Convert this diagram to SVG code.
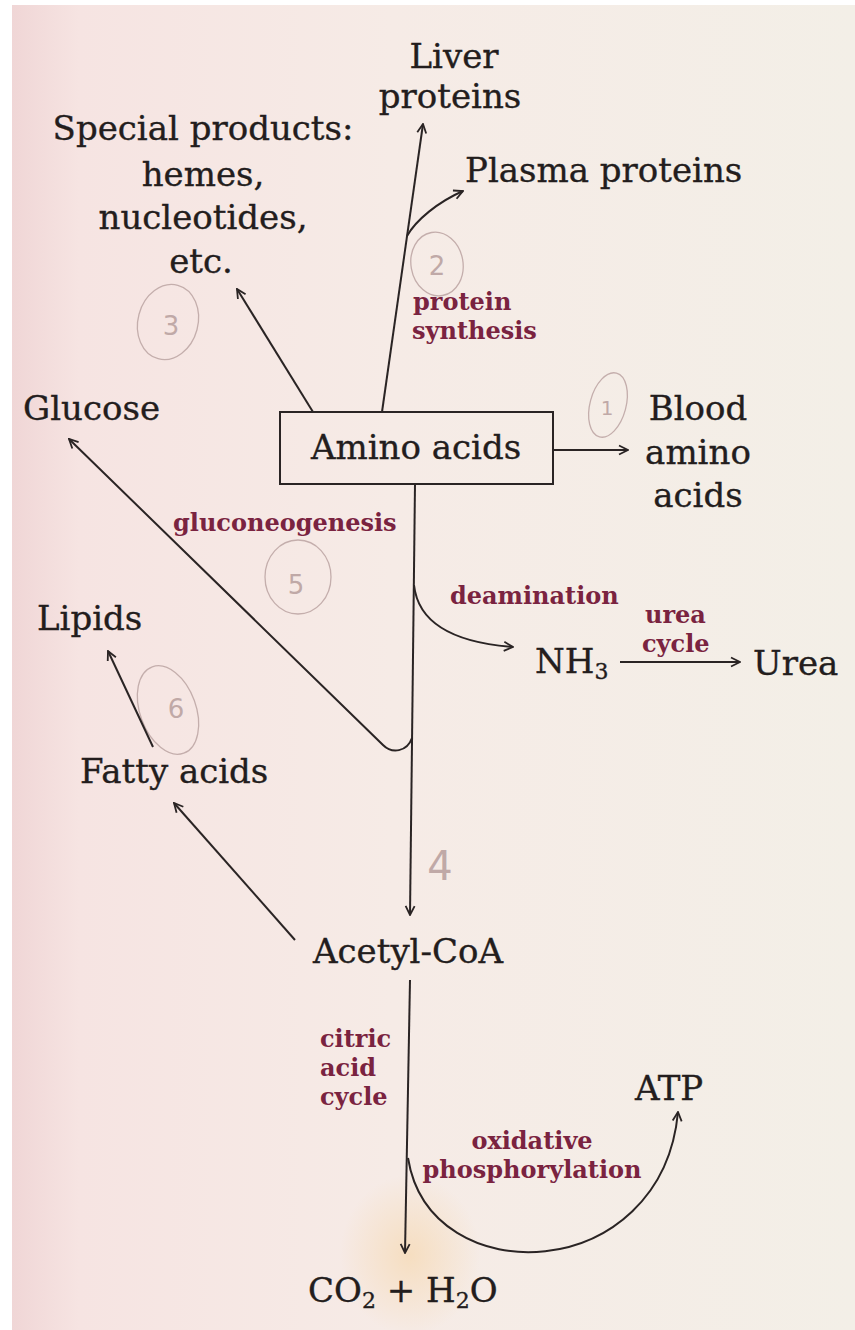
<svg xmlns="http://www.w3.org/2000/svg" width="855" height="1330" viewBox="0 0 855 1330">
<defs>
<linearGradient id="paper" x1="0" y1="0" x2="1" y2="0">
<stop offset="0" stop-color="#f0d6d6"/>
<stop offset="0.08" stop-color="#f6e4e2"/>
<stop offset="0.45" stop-color="#f6ebe6"/>
<stop offset="1" stop-color="#f3efe7"/>
</linearGradient>
<radialGradient id="stain" cx="0.5" cy="0.5" r="0.5">
<stop offset="0" stop-color="#f6d8b0" stop-opacity="0.7"/>
<stop offset="1" stop-color="#f6d8b0" stop-opacity="0"/>
</radialGradient>
<marker id="ah" viewBox="0 0 12 12" refX="11" refY="6" markerWidth="12" markerHeight="12" markerUnits="userSpaceOnUse" orient="auto">
<path d="M2,1.5 L11,6 L2,10.5" fill="none" stroke="#2a2424" stroke-width="1.8" stroke-linejoin="miter"/>
</marker>
<style>
.t{font-family:"DejaVu Serif","Liberation Serif",serif;font-size:34px;fill:#231d1d;stroke:#231d1d;stroke-width:0.35}
.m{text-anchor:middle}
.l{font-family:"DejaVu Serif","Liberation Serif",serif;font-size:24px;font-weight:bold;fill:#7a2340}
.c{fill:none;stroke:#2a2424;stroke-width:2}
.a{marker-end:url(#ah)}
.pen{fill:none;stroke:#c4aeac;stroke-width:1.3}
.pn{font-family:"DejaVu Sans",sans-serif;font-size:26px;fill:#c0a9a7;text-anchor:middle}
</style>
</defs>
<rect width="855" height="1330" fill="#ffffff"/>
<rect x="12" y="5" width="843" height="1325" fill="url(#paper)"/>
<ellipse cx="410" cy="1255" rx="70" ry="80" fill="url(#stain)"/>

<g id="annotations">
<ellipse class="pen" cx="168" cy="322" rx="30" ry="38" transform="rotate(15 168 322)"/>
<text class="pn" x="171" y="335">3</text>
<ellipse class="pen" cx="437" cy="264" rx="26" ry="32" transform="rotate(-10 437 264)"/>
<text class="pn" x="437" y="275">2</text>
<ellipse class="pen" cx="608" cy="405" rx="18" ry="33" transform="rotate(15 608 405)"/>
<text class="pn" x="607" y="415" style="font-size:20px">1</text>
<ellipse class="pen" cx="298" cy="577" rx="33" ry="37"/>
<text class="pn" x="296" y="594">5</text>
<ellipse class="pen" cx="168" cy="710" rx="28" ry="46" transform="rotate(-20 168 710)"/>
<text class="pn" x="176" y="718">6</text>
<text class="pn" x="440" y="880" style="font-size:40px">4</text>
</g>

<g id="connectors">
<path class="c a" d="M382,412 L423,124"/>
<path class="c a" d="M407,236 C416,220 438,202 463,191"/>
<path class="c a" d="M313,412 L237,289"/>
<path class="c a" d="M553,450 L628,450"/>
<path class="c a" d="M415,484 L410,915"/>
<path class="c a" d="M412,738 C407,752 392,754 383,745 L69,439"/>
<path class="c a" d="M414,585 Q420,640 513,647"/>
<path class="c a" d="M620,662 L740,662"/>
<path class="c a" d="M153,747 L108,651"/>
<path class="c a" d="M295,940 L174,803"/>
<path class="c a" d="M410,980 L405,1253"/>
<path class="c a" d="M408,1158 C430,1295 662,1285 678,1112"/>
</g>

<g id="node-liver"><text class="t m" x="454" y="68">Liver</text><text class="t m" x="450" y="108">proteins</text></g>
<g id="node-plasma"><text class="t" x="465" y="182">Plasma proteins</text></g>
<g id="node-special">
<text class="t m" x="203" y="140">Special products:</text>
<text class="t m" x="203" y="186">hemes,</text>
<text class="t m" x="203" y="229">nucleotides,</text>
<text class="t m" x="201" y="273">etc.</text>
</g>
<g id="node-amino"><rect x="280" y="412" width="273" height="72" fill="none" stroke="#2a2424" stroke-width="2"/><text class="t m" x="416" y="459">Amino acids</text></g>
<g id="node-blood"><text class="t m" x="698" y="420">Blood</text><text class="t m" x="698" y="464">amino</text><text class="t m" x="698" y="507">acids</text></g>
<g id="node-glucose"><text class="t" x="23" y="420">Glucose</text></g>
<g id="node-lipids"><text class="t" x="37" y="630">Lipids</text></g>
<g id="node-fatty"><text class="t" x="80" y="783">Fatty acids</text></g>
<g id="node-nh3"><text class="t" x="535" y="673">NH<tspan font-size="22" dy="6">3</tspan></text></g>
<g id="node-urea"><text class="t" x="753" y="675">Urea</text></g>
<g id="node-acetyl"><text class="t m" x="408" y="963">Acetyl-CoA</text></g>
<g id="node-atp"><text class="t" x="635" y="1100">ATP</text></g>
<g id="node-co2"><text class="t" x="308" y="1302">CO<tspan font-size="22" dy="6">2</tspan><tspan dy="-6"> + H</tspan><tspan font-size="22" dy="6">2</tspan><tspan dy="-6">O</tspan></text></g>

<g id="labels">
<text class="l" x="413" y="310">protein</text>
<text class="l" x="412" y="339">synthesis</text>
<text class="l" x="173" y="531">gluconeogenesis</text>
<text class="l" x="450" y="604">deamination</text>
<text class="l" x="645" y="623">urea</text>
<text class="l" x="642" y="652">cycle</text>
<text class="l" x="320" y="1047">citric</text>
<text class="l" x="320" y="1076">acid</text>
<text class="l" x="320" y="1105">cycle</text>
<text class="l m" x="532" y="1149">oxidative</text>
<text class="l m" x="532" y="1178">phosphorylation</text>
</g>
</svg>
